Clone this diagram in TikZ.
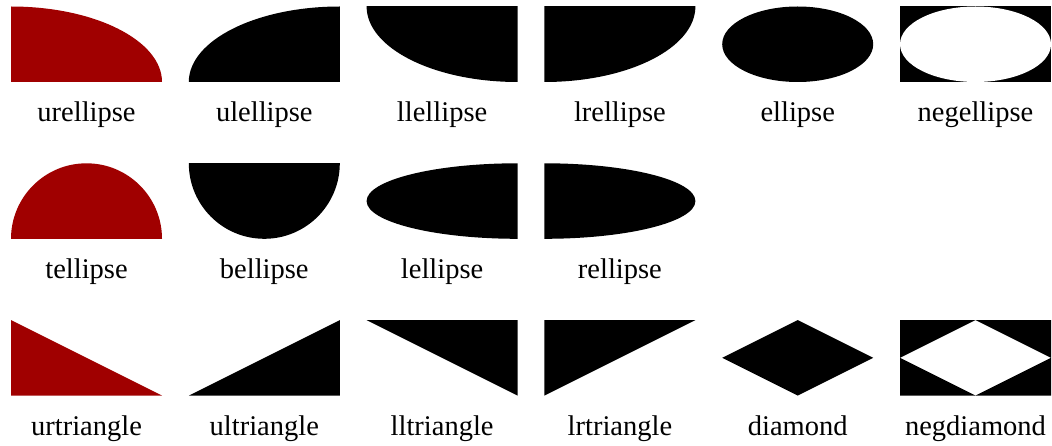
\documentclass[tikz,border=0pt]{standalone}
\usepackage{fontspec}
\setmainfont{Liberation Serif}
\definecolor{darkred}{RGB}{160,0,0}
\begin{document}
\begin{tikzpicture}[x=1pt,y=1pt,
  lab/.style={anchor=base, inner sep=0pt, font=\fontsize{28.5}{33}\selectfont},
  red shape/.style={fill=darkred},
  black shape/.style={fill=black}]
\useasboundingbox (0,0) rectangle (1052,445);
\def\W{151}\def\H{75.5}\def\Wh{75.5}\def\Hh{37.75}
% ---------- row 1 ----------
\begin{scope}[shift={(11,363)}]
  \clip (0,0) rectangle (\W,\H);
  \fill[red shape] (0,0) ellipse [x radius=\W, y radius=\H];
\end{scope}
\begin{scope}[shift={(188.8,363)}]
  \clip (0,0) rectangle (\W,\H);
  \fill[black shape] (\W,0) ellipse [x radius=\W, y radius=\H];
\end{scope}
\begin{scope}[shift={(366.6,363)}]
  \clip (0,0) rectangle (\W,\H);
  \fill[black shape] (\W,\H) ellipse [x radius=\W, y radius=\H];
\end{scope}
\begin{scope}[shift={(544.4,363)}]
  \clip (0,0) rectangle (\W,\H);
  \fill[black shape] (0,\H) ellipse [x radius=\W, y radius=\H];
\end{scope}
\begin{scope}[shift={(722.2,363)}]
  \fill[black shape] (\Wh,\Hh) ellipse [x radius=\Wh, y radius=\Hh];
\end{scope}
\begin{scope}[shift={(900,363)}]
  \fill[black shape] (0,0) rectangle (\W,\H);
  \fill[white] (\Wh,\Hh) ellipse [x radius=\Wh, y radius=\Hh];
\end{scope}
\node[lab] (l11) at (86.5,323) {urellipse};
\node[lab] (l12) at (264.3,323) {ulellipse};
\node[lab] (l13) at (442.1,323) {llellipse};
\node[lab] (l14) at (619.9,323) {lrellipse};
\node[lab] (l15) at (797.7,323) {ellipse};
\node[lab] (l16) at (975.5,323) {negellipse};
% ---------- row 2 ----------
\begin{scope}[shift={(11,206.2)}]
  \clip (0,0) rectangle (\W,\H);
  \fill[red shape] (\Wh,0) ellipse [x radius=\Wh, y radius=\H];
\end{scope}
\begin{scope}[shift={(188.8,206.2)}]
  \clip (0,0) rectangle (\W,\H);
  \fill[black shape] (\Wh,\H) ellipse [x radius=\Wh, y radius=\H];
\end{scope}
\begin{scope}[shift={(366.6,206.2)}]
  \clip (0,0) rectangle (\W,\H);
  \fill[black shape] (\W,\Hh) ellipse [x radius=\W, y radius=\Hh];
\end{scope}
\begin{scope}[shift={(544.4,206.2)}]
  \clip (0,0) rectangle (\W,\H);
  \fill[black shape] (0,\Hh) ellipse [x radius=\W, y radius=\Hh];
\end{scope}
\node[lab] (l21) at (86.5,166.2) {tellipse};
\node[lab] (l22) at (264.3,166.2) {bellipse};
\node[lab] (l23) at (442.1,166.2) {lellipse};
\node[lab] (l24) at (619.9,166.2) {rellipse};
% ---------- row 3 ----------
\begin{scope}[shift={(11,49.4)}]
  \fill[red shape] (0,\H) -- (0,0) -- (\W,0) -- cycle;
\end{scope}
\begin{scope}[shift={(188.8,49.4)}]
  \fill[black shape] (\W,\H) -- (\W,0) -- (0,0) -- cycle;
\end{scope}
\begin{scope}[shift={(366.6,49.4)}]
  \fill[black shape] (0,\H) -- (\W,\H) -- (\W,0) -- cycle;
\end{scope}
\begin{scope}[shift={(544.4,49.4)}]
  \fill[black shape] (0,\H) -- (\W,\H) -- (0,0) -- cycle;
\end{scope}
\begin{scope}[shift={(722.2,49.4)}]
  \fill[black shape] (\Wh,0) -- (\W,\Hh) -- (\Wh,\H) -- (0,\Hh) -- cycle;
\end{scope}
\begin{scope}[shift={(900,49.4)}]
  \fill[black shape, even odd rule] (0,0) rectangle (\W,\H)
    (\Wh,0) -- (\W,\Hh) -- (\Wh,\H) -- (0,\Hh) -- cycle;
\end{scope}
\node[lab] (l31) at (86.5,9.4) {urtriangle};
\node[lab] (l32) at (264.3,9.4) {ultriangle};
\node[lab] (l33) at (442.1,9.4) {lltriangle};
\node[lab] (l34) at (619.9,9.4) {lrtriangle};
\node[lab] (l35) at (797.7,9.4) {diamond};
\node[lab] (l36) at (975.5,9.4) {negdiamond};
\end{tikzpicture}
\end{document}
